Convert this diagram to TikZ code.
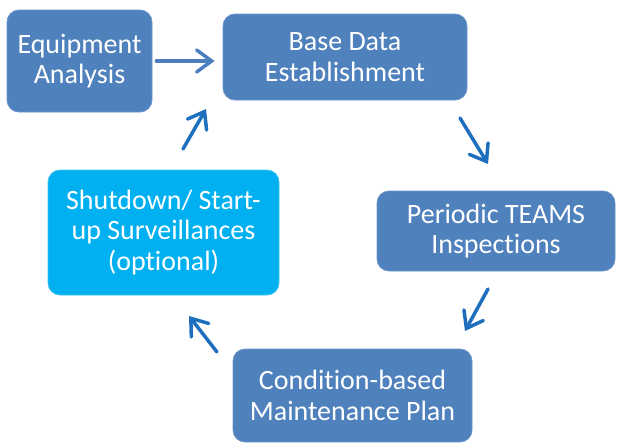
\documentclass[tikz,border=0pt]{standalone}
\usepackage{fontspec}
\setmainfont[RawFeature={-liga;-clig;-calt;-dlig}]{Carlito}
\usetikzlibrary{arrows.meta}
\definecolor{boxblue}{HTML}{4F81BD}
\definecolor{boxedge}{HTML}{6B96CB}
\definecolor{skyblue}{HTML}{00B0F0}
\definecolor{skyedge}{HTML}{40C4F4}
\definecolor{arrowblue}{HTML}{1F6FBF}
\definecolor{arrowsoft}{HTML}{4A7EBE}
\begin{document}
\begin{tikzpicture}[x=1pt,y=-1pt,
  stage/.style={draw=boxedge, fill=boxblue, line width=0.8pt, rounded corners=12pt,
    text=white, align=center, inner sep=0pt,
    font=\fontsize{28}{30.5}\selectfont},
  optional/.style={stage, draw=skyedge, fill=skyblue},
  flow/.style={draw=arrowblue, line width=3.5pt, line cap=round,
    -{Straight Barb[length=15pt,width=22pt,line cap=round]}},
  flowsoft/.style={flow, draw=arrowsoft}
]
\useasboundingbox (0,0) rectangle (618,442);

% process stages
\node[stage, minimum width=145pt, minimum height=102pt] (equip) at (79.5,61) {Equipment\\Analysis};
\node[stage, minimum width=244pt, minimum height=86pt] (base) at (345,57) {Base Data\\Establishment};
\node[stage, minimum width=238pt, minimum height=80pt] (insp) at (496,231) {Periodic TEAMS\\Inspections};
\node[stage, minimum width=239pt, minimum height=93pt] (cbm) at (352.5,395.5) {Condition-based\\Maintenance Plan};
\node[optional, minimum width=231pt, minimum height=125pt] (shut) at (163.5,232.5) {Shutdown/ Start-\\up Surveillances\\(optional)};

% arrow end points between the stages
\coordinate (a3s) at (460,118);
\coordinate (a3e) at (488,164);
\coordinate (a4s) at (488,289);
\coordinate (a4e) at (465,331);
\coordinate (a5s) at (217,352);
\coordinate (a5e) at (189,316);
\coordinate (a2s) at (183,149);
\coordinate (a2e) at (206,109);

% cycle connectors
\draw[flowsoft, shorten <=4pt, shorten >=8pt] (equip.east |- 0,61) -- (base.west |- 0,61);
\draw[flow] (a3s) -- (a3e);
\draw[flow] (a4s) -- (a4e);
\draw[flow] (a5s) -- (a5e);
\draw[flow] (a2s) -- (a2e);
\end{tikzpicture}
\end{document}
